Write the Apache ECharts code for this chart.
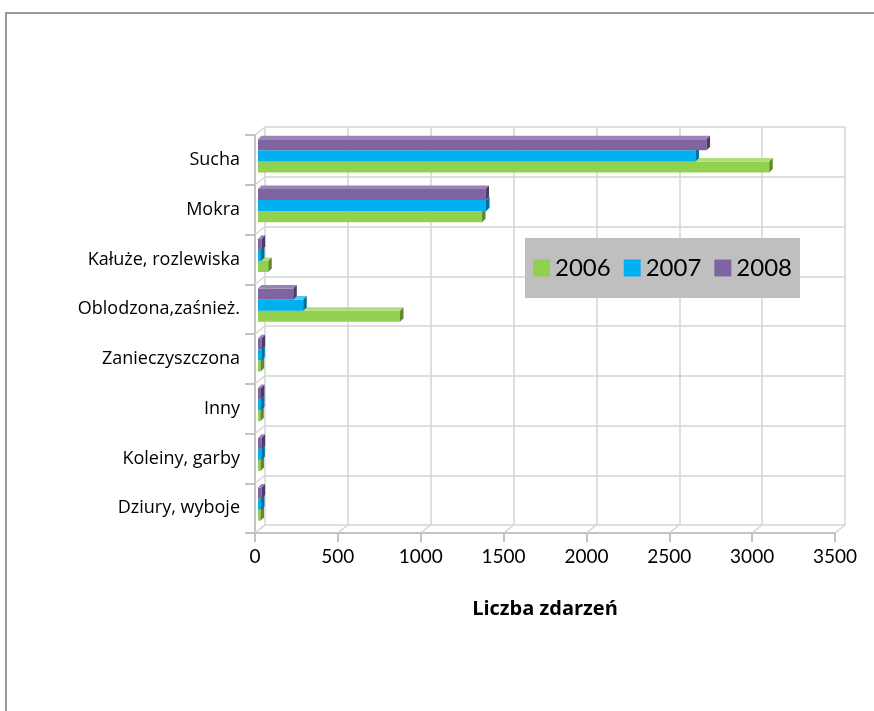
<!DOCTYPE html>
<html>
<head>
<meta charset="utf-8">
<script src="https://cdn.jsdelivr.net/npm/echarts@6/dist/echarts.min.js"></script>
<style>
    html, body {
        margin: 0;
        padding: 0;
        background: #fff;
    }
    .frame {
        position: absolute;
        left: 5px;
        top: 12px;
        width: 900px;
        height: 800px;
        border: 2px solid #9a9a9a;
    }
    #chart {
        position: absolute;
        left: 0;
        top: 0;
        width: 874px;
        height: 711px;
    }
</style>
</head>
<body>
<div class="frame"></div>
<div id="chart"></div>
<script>
// dane z wykresu
const categories = ['Sucha', 'Mokra', 'Kałuże, rozlewiska', 'Oblodzona,zaśnież.', 'Zanieczyszczona', 'Inny', 'Koleiny, garby', 'Dziury, wyboje']
const years = ['2006', '2007', '2008']
const v2006 = [3085, 1352, 62, 857, 16, 14, 15, 15]
const v2007 = [2640, 1376, 18, 273, 20, 18, 20, 18]
const v2008 = [2707, 1373, 22, 213, 22, 18, 22, 22]
const xMin = 0
const xMax = 3500
const xStep = 500

const seriesValues = [v2006, v2007, v2008]
// front, top, side
const colors = [
    ['#92d050', '#aede7c', '#5e8a2c'],
    ['#00b0f0', '#4ccaf5', '#00719a'],
    ['#8064a2', '#9a83b8', '#4e3b68']
]

// przesunięcie tylnej ściany względem przodu (efekt 3D)
const depthX = 10
const depthY = -8

function makeRender(idx) {
    return function (params, api) {
        let v = api.value(0)
        let c = api.value(1)
        let p0 = api.coord([0, c])
        let p1 = api.coord([v, c])
        let band = api.size([0, 1])[1]
        let h = band * 0.222
        let yTop = p0[1] - 1.5 * h + (2 - idx) * h
        let x0 = p0[0]
        let x1 = p1[0]
        let d = 3.5
        return {
            type: 'group',
            children: [
                {
                    type: 'rect',
                    shape: {x: x0, y: yTop, width: x1 - x0, height: h},
                    style: {fill: colors[idx][0]}
                },
                {
                    type: 'polygon',
                    shape: {points: [[x0, yTop], [x0 + d, yTop - d], [x1 + d, yTop - d], [x1, yTop]]},
                    style: {fill: colors[idx][1]}
                },
                {
                    type: 'polygon',
                    shape: {points: [[x1, yTop], [x1 + d, yTop - d], [x1 + d, yTop + h - d], [x1, yTop + h]]},
                    style: {fill: colors[idx][2]}
                }
            ]
        }
    }
}

// ukośne linie podłogi i lewej ściany
function renderFloor(params, api) {
    let p = api.coord([api.value(0), categories.length - 1])
    let y = p[1] + api.size([0, 1])[1] / 2
    return {
        type: 'line',
        shape: {x1: p[0], y1: y, x2: p[0] + depthX, y2: y + depthY},
        style: {stroke: '#d4d4d4', lineWidth: 1.5}
    }
}

function renderWall(params, api) {
    let k = api.value(0)
    let p = api.coord([0, Math.min(k, categories.length - 1)])
    let half = api.size([0, 1])[1] / 2
    let y = k < categories.length ? p[1] - half : p[1] + half
    return {
        type: 'line',
        shape: {x1: p[0], y1: y, x2: p[0] + depthX, y2: y + depthY},
        style: {stroke: '#d4d4d4', lineWidth: 1.5}
    }
}

let xTicks = []
for (let t = xMin; t <= xMax; t += xStep) xTicks.push(t)

let chart = echarts.init(document.getElementById('chart'))

let series = years.map(function (y, i) {
    return {
        name: y,
        type: 'custom',
        xAxisIndex: 2,
        yAxisIndex: 2,
        itemStyle: {color: colors[i][0]},
        encode: {x: 0, y: 1},
        renderItem: makeRender(i),
        data: seriesValues[i].map(function (v, k) {
            return [v, k]
        }),
        z: 3
    }
})

series.unshift({
    type: 'custom',
    xAxisIndex: 1,
    yAxisIndex: 1,
    silent: true,
    renderItem: renderWall,
    encode: {y: 0},
    data: categories.map(function (c, k) {
        return [k]
    }).concat([[categories.length]]),
    z: 1
})
series.unshift({
    type: 'custom',
    xAxisIndex: 1,
    yAxisIndex: 1,
    silent: true,
    renderItem: renderFloor,
    encode: {x: 0},
    data: xTicks.map(function (t) {
        return [t]
    }),
    z: 1
})

const fontFamily = 'Lato, "Open Sans", sans-serif'
const labelFont = '"Open Sans", sans-serif'

chart.setOption({
    animation: false,
    textStyle: {fontFamily: fontFamily},
    legend: {
        data: years,
        left: 525,
        top: 238,
        padding: [18, 8, 18, 8],
        itemGap: 13,
        itemWidth: 17,
        itemHeight: 17,
        icon: 'rect',
        backgroundColor: '#bfbfbf',
        textStyle: {fontSize: 24, color: '#000', fontFamily: fontFamily}
    },
    grid: [
        // tylna ściana
        {left: 265, top: 127, width: 580, height: 398},
        // przód (osie)
        {left: 255, top: 135, width: 580, height: 398},
        // słupki
        {left: 258, top: 131, width: 580, height: 398}
    ],
    xAxis: [
        {
            gridIndex: 0, type: 'value', min: xMin, max: xMax, interval: xStep,
            axisLine: {show: false}, axisTick: {show: false}, axisLabel: {show: false},
            splitLine: {show: true, lineStyle: {color: '#d4d4d4', width: 1.5}}
        },
        {
            gridIndex: 1, type: 'value', min: xMin, max: xMax, interval: xStep,
            axisLine: {show: true, lineStyle: {color: '#b0b0b0', width: 1.5}},
            axisTick: {show: true, length: 9, lineStyle: {color: '#b0b0b0', width: 1.5}},
            axisLabel: {
                fontSize: 19, color: '#000', margin: 14, fontFamily: fontFamily,
                formatter: function (v) {
                    return String(v)
                }
            },
            splitLine: {show: false},
            name: 'Liczba zdarzeń',
            nameLocation: 'middle',
            nameGap: 66,
            nameTextStyle: {fontSize: 20, fontWeight: 'bold', color: '#000', fontFamily: labelFont}
        },
        {
            gridIndex: 2, type: 'value', min: xMin, max: xMax, interval: xStep, show: false
        }
    ],
    yAxis: [
        {
            gridIndex: 0, type: 'category', data: categories, inverse: true,
            axisLine: {show: false}, axisTick: {show: false}, axisLabel: {show: false},
            splitLine: {show: true, lineStyle: {color: '#d4d4d4', width: 1.5}}
        },
        {
            gridIndex: 1, type: 'category', data: categories, inverse: true,
            axisLine: {show: true, lineStyle: {color: '#b0b0b0', width: 1.5}},
            axisTick: {show: true, length: 10, lineStyle: {color: '#b0b0b0', width: 1.5}},
            axisLabel: {fontSize: 18, color: '#000', margin: 15, fontFamily: labelFont},
            splitLine: {show: false}
        },
        {
            gridIndex: 2, type: 'category', data: categories, inverse: true, show: false
        }
    ],
    series: series
})
</script>
</body>
</html>
